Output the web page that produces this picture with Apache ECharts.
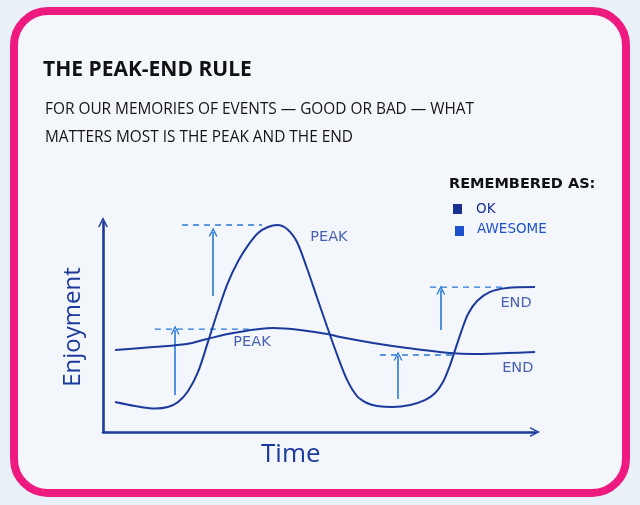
<!DOCTYPE html>
<html>
<head>
<meta charset="utf-8">
<script src="https://cdn.jsdelivr.net/npm/echarts@6/dist/echarts.min.js"></script>
<style>
html,body{margin:0;padding:0;background:#e9f0f7;}
#c{width:640px;height:505px;}
</style>
</head>
<body>
<div id="c"></div>
<script>
// ---- data ----
const titleText = 'THE PEAK-END RULE';
const subtitleLines = ['FOR OUR MEMORIES OF EVENTS — GOOD OR BAD — WHAT', 'MATTERS MOST IS THE PEAK AND THE END'];
const legendTitle = 'REMEMBERED AS:';
const seriesNames = ['OK', 'AWESOME'];
const xName = 'Time';
const yName = 'Enjoyment';

// time (0-100) vs enjoyment (0-100)
const awesomeTime = [2.8, 7.4, 12.0, 15.0, 17.4, 19.7, 22.0, 24.3, 26.6, 28.9, 31.3, 33.6, 35.9, 38.2, 40.3, 42.6, 44.9, 47.2, 49.5, 51.9, 54.2, 56.5, 58.8, 61.1, 63.4, 67.1, 71.1, 74.5, 76.9, 78.7, 80.1, 81.5, 82.9, 84.5, 86.6, 89.6, 93.5, 100];
const awesomeEnjoy = [14.3, 12.4, 11.2, 11.9, 14.3, 19.5, 28.6, 42.9, 57.6, 71.0, 81.4, 89.0, 94.8, 97.6, 98.6, 96.7, 90.5, 78.1, 64.3, 50.0, 36.7, 24.8, 17.1, 13.8, 12.4, 11.9, 12.9, 15.2, 18.6, 23.8, 30.5, 39.0, 47.6, 56.2, 62.4, 66.7, 68.6, 69.0];

const okTime = [2.8, 11.6, 19.4, 24.1, 30.1, 39.4, 45.6, 51.9, 54.9, 62.5, 70.4, 80.3, 85.6, 93.5, 100];
const okEnjoy = [39.0, 40.5, 41.9, 44.3, 47.1, 49.5, 48.6, 46.7, 45.2, 42.4, 40.0, 37.6, 37.1, 37.6, 38.1];

// dashed reference levels: [xStart, xEnd, level]
const dashAwesomePeak = [18.3, 36.8, 98.6];
const dashOkPeak = [12.0, 34.0, 49.0];
const dashAwesomeEnd = [75.7, 93.5, 69.0];
const dashOkEnd = [64.1, 81.0, 36.7];

// arrows: [x, yFrom, yTo]
const arrowAwesomePeak = [25.5, 64.8, 95.2];
const arrowOkPeak = [16.7, 17.6, 48.6];
const arrowAwesomeEnd = [78.2, 48.6, 67.6];
const arrowOkEnd = [68.3, 15.7, 36.2];

// curve labels: [x, y, text]
const curveLabels = [
  [52.3, 92.9, 'PEAK'],
  [34.5, 42.9, 'PEAK'],
  [95.6, 61.4, 'END'],
  [96.0, 30.5, 'END']
];

// ---- styles ----
const curveColor = '#1c3a9c';
const accent = '#2a78d4';
const okSq = '#1a2f8f';
const awSq = '#1d50cc';
const font = '"Open Sans", "DejaVu Sans", sans-serif';
const wide = '"DejaVu Sans", sans-serif';
const chevron = 'path://M0 10 L5 0 L10 10 L8.4 10 L5 3.2 L1.6 10 Z';

const zip = (a, b) => a.map((v, i) => [v, b[i]]);
const dashData = d => [[d[0], d[2]], [d[1], d[2]]];
const arrowData = a => ({ coords: [[a[0], a[1]], [a[0], a[2]]] });

const chart = echarts.init(document.getElementById('c'), null, { renderer: 'canvas' });

chart.setOption({
  backgroundColor: '#e9f0f7',
  animation: false,
  grid: { left: 103, right: 105, top: 222, bottom: 73 },
  xAxis: {
    type: 'value', min: 0, max: 100,
    axisLine: { show: true, symbol: ['none', chevron], symbolSize: [11, 10], lineStyle: { color: curveColor, width: 2.6 } },
    axisTick: { show: false }, axisLabel: { show: false }, splitLine: { show: false }
  },
  yAxis: {
    type: 'value', min: 0, max: 100,
    name: yName, nameLocation: 'middle', nameGap: 18, nameRotate: 90,
    nameTextStyle: { color: curveColor, fontSize: 24, fontFamily: font },
    axisLine: { show: true, symbol: ['none', chevron], symbolSize: [11, 10], lineStyle: { color: curveColor, width: 2.6 } },
    axisTick: { show: false }, axisLabel: { show: false }, splitLine: { show: false }
  },
  graphic: [
    { type: 'rect', z: -10, shape: { x: 14, y: 11, width: 612, height: 482, r: 34 },
      style: { fill: '#f3f7fc', stroke: '#ee1a80', lineWidth: 8 } },
    { type: 'text', left: 43, top: 60, style: { text: titleText, fill: '#111', font: 'bold 21px ' + font } },
    { type: 'text', left: 45, top: 102, style: { text: subtitleLines[0], fill: '#151515', font: '15.4px ' + font } },
    { type: 'text', left: 45, top: 130, style: { text: subtitleLines[1], fill: '#151515', font: '15.4px ' + font } },
    { type: 'text', left: 449, top: 177, style: { text: legendTitle, fill: '#111', font: 'bold 14.5px ' + wide } },
    { type: 'rect', shape: { x: 453, y: 204, width: 9, height: 10 }, style: { fill: okSq } },
    { type: 'rect', shape: { x: 455, y: 226, width: 9, height: 10 }, style: { fill: awSq } },
    { type: 'text', left: 476, top: 202, style: { text: seriesNames[0], fill: okSq, font: '13.5px ' + wide } },
    { type: 'text', left: 477, top: 222, style: { text: seriesNames[1], fill: awSq, font: '13.5px ' + wide } },
    { type: 'text', left: 261, top: 442, style: { text: xName, fill: curveColor, font: '26px ' + font } }
  ],
  series: [
    { name: seriesNames[1], type: 'line', data: zip(awesomeTime, awesomeEnjoy), smooth: 0.3, showSymbol: false,
      lineStyle: { color: curveColor, width: 2 }, clip: false, z: 3 },
    { name: seriesNames[0], type: 'line', data: zip(okTime, okEnjoy), smooth: 0.35, showSymbol: false,
      lineStyle: { color: curveColor, width: 2 }, clip: false, z: 3 },
    ...[dashAwesomePeak, dashOkPeak, dashAwesomeEnd, dashOkEnd].map(d => ({
      type: 'line', data: dashData(d), showSymbol: false, silent: true,
      lineStyle: { color: accent, width: 1.4, type: [6, 5] }, z: 2
    })),
    { type: 'lines', coordinateSystem: 'cartesian2d', silent: true,
      symbol: ['none', chevron], symbolSize: [12, 9],
      lineStyle: { color: accent, width: 1.6, opacity: 1 },
      data: [arrowAwesomePeak, arrowOkPeak, arrowAwesomeEnd, arrowOkEnd].map(arrowData), z: 2 },
    { type: 'scatter', symbolSize: 0, silent: true,
      data: curveLabels.map(l => ({ value: [l[0], l[1]], name: l[2] })),
      label: { show: true, formatter: '{b}', position: 'inside', color: curveColor, fontSize: 14.5, fontFamily: wide } }
  ]
});
</script>
</body>
</html>
